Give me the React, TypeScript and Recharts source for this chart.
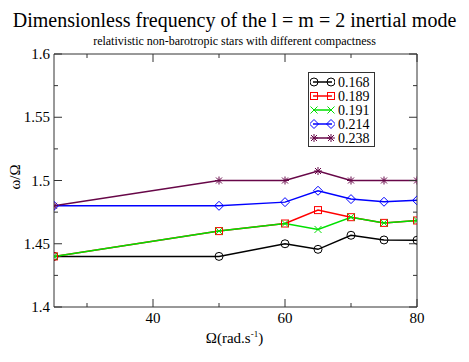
import React from "react";
import { LineChart, Line, XAxis, YAxis } from "recharts";

const omega = [25, 50, 60, 65, 70, 75, 80];
const c168 = [1.44, 1.44, 1.45, 1.4456, 1.4567, 1.453, 1.4528];
const c189 = [1.44, 1.46, 1.466, 1.4766, 1.471, 1.4665, 1.4684];
const c191 = [1.44, 1.46, 1.466, 1.4613, 1.471, 1.4665, 1.4684];
const c214 = [1.48, 1.48, 1.4829, 1.4919, 1.4853, 1.4832, 1.4843];
const c238 = [1.48, 1.5, 1.5, 1.5075, 1.5, 1.5, 1.5];

const labels = ["0.168", "0.189", "0.191", "0.214", "0.238"];
const colors = ["#000000", "#ff0000", "#00e000", "#0000ff", "#670748"];
const shapes = ["circle", "square", "cross", "diamond", "star"];

const xTicks = [30, 40, 50, 60, 70, 80];
const yTicks = [1.4, 1.425, 1.45, 1.475, 1.5, 1.525, 1.55, 1.575, 1.6];

const data = omega.map((x, i) => ({
  x,
  s0: c168[i],
  s1: c189[i],
  s2: c191[i],
  s3: c214[i],
  s4: c238[i],
}));

const FONT = "Liberation Serif, DejaVu Serif, serif";
const AX = "#333";

function Marker({ kind, cx, cy, color }: any) {
  if (cx == null || cy == null) return null;
  const p = { stroke: color, strokeWidth: 1, fill: "none" };
  switch (kind) {
    case "circle":
      return <circle cx={cx} cy={cy} r={4} {...p} />;
    case "square":
      return <rect x={cx - 3.5} y={cy - 3.5} width={7} height={7} {...p} />;
    case "cross":
      return (
        <path d={`M${cx - 3.5},${cy - 3.5}L${cx + 3.5},${cy + 3.5}M${cx - 3.5},${cy + 3.5}L${cx + 3.5},${cy - 3.5}`} {...p} />
      );
    case "diamond":
      return <path d={`M${cx},${cy - 4.5}L${cx + 4.5},${cy}L${cx},${cy + 4.5}L${cx - 4.5},${cy}Z`} {...p} />;
    default:
      return (
        <path
          d={`M${cx},${cy - 4}L${cx},${cy + 4}M${cx - 4},${cy}L${cx + 4},${cy}M${cx - 3},${cy - 3}L${cx + 3},${cy + 3}M${cx - 3},${cy + 3}L${cx + 3},${cy - 3}`}
          {...p}
        />
      );
  }
}

const isMajorX = (v: number) => v % 20 === 0;
const isMajorY = (v: number) => Math.abs(v * 20 - Math.round(v * 20)) < 1e-6;
const fmtY = (v: number) => String(Math.round(v * 100) / 100);

function BottomTick({ x, y, payload }: any) {
  const major = isMajorX(payload.value);
  return (
    <g>
      <line x1={x} x2={x} y1={y} y2={y - (major ? 8 : 4)} stroke={AX} />
      {major && (
        <text x={x} y={y + 16} textAnchor="middle" fontSize={15} fontFamily={FONT} fill="#000">
          {payload.value}
        </text>
      )}
    </g>
  );
}

function TopTick({ x, y, payload }: any) {
  const major = isMajorX(payload.value);
  return <line x1={x} x2={x} y1={y} y2={y + (major ? 8 : 4)} stroke={AX} />;
}

function LeftTick({ x, y, payload }: any) {
  const major = isMajorY(payload.value);
  return (
    <g>
      <line x1={x} x2={x + (major ? 8 : 4)} y1={y} y2={y} stroke={AX} />
      {major && (
        <text x={x - 4} y={y + 5} textAnchor="end" fontSize={15} fontFamily={FONT} fill="#000">
          {fmtY(payload.value)}
        </text>
      )}
    </g>
  );
}

function RightTick({ x, y, payload }: any) {
  const major = isMajorY(payload.value);
  return <line x1={x} x2={x - (major ? 8 : 4)} y1={y} y2={y} stroke={AX} />;
}

export default function App() {
  return (
    <div style={{ position: "absolute", left: 0, top: 0, width: 469, height: 362, background: "#fff", fontFamily: FONT }}>
      <div style={{ position: "absolute", left: 0, width: 469, top: 8, textAlign: "center", fontSize: 20, lineHeight: "24px" }}>
        Dimensionless frequency of the l = m = 2 inertial mode
      </div>
      <div style={{ position: "absolute", left: 0, width: 469, top: 34, textAlign: "center", fontSize: 12, lineHeight: "14px" }}>
        relativistic non-barotropic stars with different compactness
      </div>
      <LineChart width={469} height={362} data={data} margin={{ top: 0, right: 0, bottom: 0, left: 0 }}>
        <XAxis
          xAxisId="b"
          type="number"
          dataKey="x"
          domain={[25, 80]}
          ticks={xTicks}
          allowDataOverflow
          height={55}
          tickSize={0}
          tickMargin={0}
          tick={<BottomTick />}
          tickLine={false}
          axisLine={{ stroke: AX }}
          interval={0}
        />
        <XAxis
          xAxisId="t"
          orientation="top"
          type="number"
          dataKey="x"
          domain={[25, 80]}
          ticks={xTicks}
          allowDataOverflow
          height={54}
          tickSize={0}
          tickMargin={0}
          tick={<TopTick />}
          tickLine={false}
          axisLine={{ stroke: AX }}
          interval={0}
        />
        <YAxis
          yAxisId="l"
          type="number"
          domain={[1.4, 1.6]}
          ticks={yTicks}
          allowDataOverflow
          width={54}
          tickSize={0}
          tickMargin={0}
          tick={<LeftTick />}
          tickLine={false}
          axisLine={{ stroke: AX }}
          interval={0}
        />
        <YAxis
          yAxisId="r"
          orientation="right"
          type="number"
          domain={[1.4, 1.6]}
          ticks={yTicks}
          allowDataOverflow
          width={52}
          tickSize={0}
          tickMargin={0}
          tick={<RightTick />}
          tickLine={false}
          axisLine={{ stroke: AX }}
          interval={0}
        />
        {labels.map((name, i) => (
          <Line
            key={name}
            xAxisId="b"
            yAxisId="l"
            type="linear"
            dataKey={`s${i}`}
            name={name}
            stroke={colors[i]}
            strokeWidth={1.5}
            isAnimationActive={false}
            dot={(props: any) => <Marker key={`${name}-${props.index}`} kind={shapes[i]} cx={props.cx} cy={props.cy} color={colors[i]} />}
            activeDot={false}
          />
        ))}
      </LineChart>
      <div style={{ position: "absolute", left: 0, top: 325, width: 469, textAlign: "center", fontSize: 15, lineHeight: "18px" }}>
        Ω(rad.s<sup style={{ fontSize: 9 }}>-1</sup>)
      </div>
      <div
        style={{
          position: "absolute",
          left: 15,
          top: 177,
          transform: "translate(-50%, -50%) rotate(-90deg)",
          fontSize: 15,
          whiteSpace: "nowrap",
        }}
      >
        ω/Ω
      </div>
      <div
        style={{
          position: "absolute",
          left: 308,
          top: 72,
          width: 67,
          height: 75,
          border: "1px solid #333",
          background: "#fff",
          boxSizing: "border-box",
        }}
      >
        {labels.map((name, i) => (
          <div
            key={name}
            style={{ position: "absolute", left: 1, top: 2 + i * 14, height: 14, width: 64, display: "flex", alignItems: "center", whiteSpace: "nowrap" }}
          >
            <svg width={25} height={14} style={{ flex: "none" }}>
              <line x1={3} x2={22} y1={7} y2={7} stroke={colors[i]} strokeWidth={1.5} />
              <Marker kind={shapes[i]} cx={4} cy={7} color={colors[i]} />
              <Marker kind={shapes[i]} cx={21} cy={7} color={colors[i]} />
            </svg>
            <span style={{ fontSize: 14, lineHeight: "13px", marginLeft: 3 }}>{name}</span>
          </div>
        ))}
      </div>
    </div>
  );
}
